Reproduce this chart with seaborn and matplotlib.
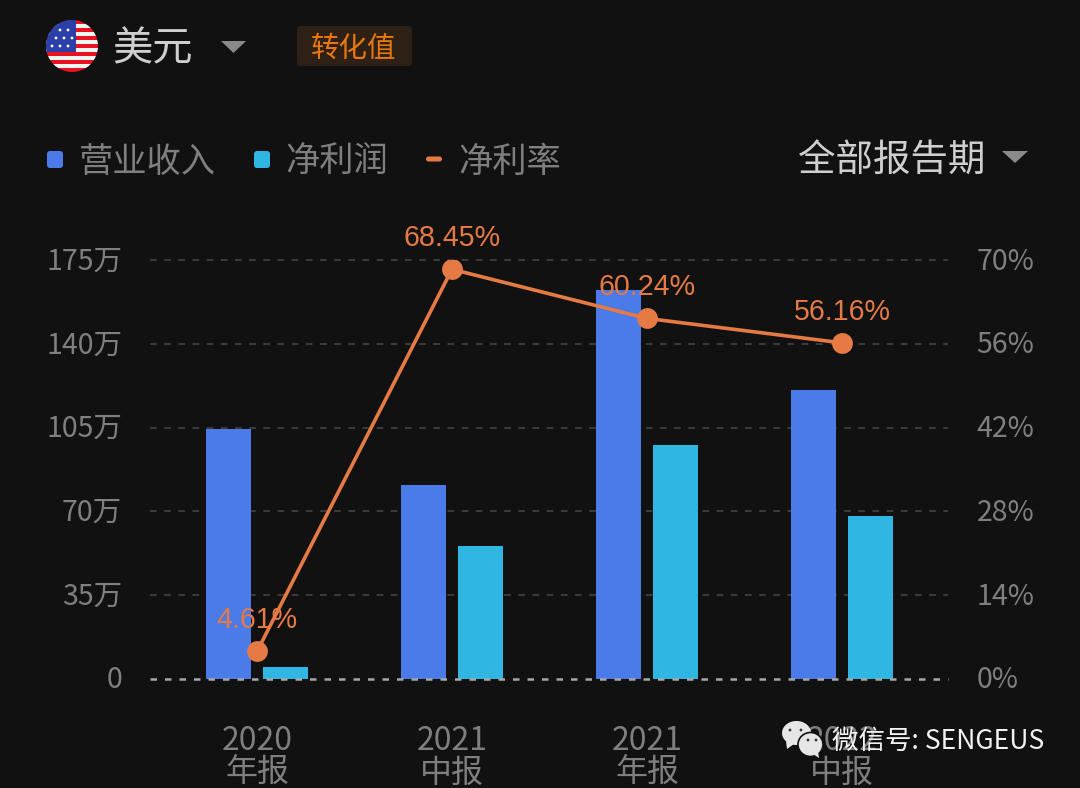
import matplotlib
matplotlib.use("Agg")
import matplotlib.pyplot as plt
from matplotlib.patches import Circle, Ellipse, FancyBboxPatch, Polygon, Rectangle
from matplotlib.transforms import ScaledTranslation
import pandas as pd
import seaborn as sns

# Values
periods = ["2020\n年报", "2021\n中报", "2021\n年报", "2022\n中报"]
revenue = [104.3, 81, 162.5, 120.7]
net_profit = [5.2, 55.5, 97.7, 68]
margin = [4.61, 68.45, 60.24, 56.16]
left_ticks = [0, 35, 70, 105, 140, 175]
left_labels = ["0", "35万", "70万", "105万", "140万", "175万"]
right_ticks = [0, 14, 28, 42, 56, 70]
right_labels = ["0%", "14%", "28%", "42%", "56%", "70%"]

BG = "#111111"
BLUE = "#4A7BE8"
CYAN = "#2FB6E3"
ORANGE = "#E67A45"
GREY = "#7F7F7F"

sns.set_theme(style="dark")
plt.rcParams["font.family"] = ["Noto Sans CJK SC", "DejaVu Sans"]

fig = plt.figure(figsize=(10.8, 7.88), dpi=100, facecolor=BG)
ax = fig.add_axes([150 / 1080, 109 / 788, 798 / 1080, 419 / 788], facecolor=BG)

# Bars
df = pd.DataFrame({"period": periods, "营业收入": revenue, "净利润": net_profit})
df = df.melt(id_vars="period", var_name="item", value_name="value")
sns.barplot(data=df, x="period", y="value", hue="item", palette=[BLUE, CYAN],
            width=0.58, gap=0.203, saturation=1, legend=False, zorder=3,
            linewidth=0, ax=ax)
ax.set_xlim(-0.549, 3.544)
ax.set_ylim(0, 175)
ax.set_xlabel("")
ax.set_ylabel("")
ax.set_yticks(left_ticks, left_labels)
ax.tick_params(axis="x", length=0, pad=33, labelsize=23, labelcolor=GREY)
ax.tick_params(axis="y", length=0, pad=20, labelsize=20.5, labelcolor=GREY)
for label in ax.get_xticklabels():
    label.set_linespacing(1.0)
for s in ax.spines.values():
    s.set_visible(False)

# Grid lines, zero line is brighter
for t in left_ticks[1:]:
    ax.axhline(t, color="#3A3A3A", lw=1.5, dashes=(3.2, 3.6), zorder=1, clip_on=False)
ax.axhline(0, color="#A8A8A8", lw=1.8, dashes=(2.6, 3.2), zorder=4, clip_on=False)

# Margin line on the second axis
ax2 = ax.twinx()
sns.lineplot(x=list(range(len(periods))), y=margin, color=ORANGE, lw=2.6, marker="o",
             markersize=15, markeredgewidth=0, ax=ax2, zorder=5)
ax2.set_ylim(0, 70)
ax2.set_yticks(right_ticks, right_labels)
ax2.set_ylabel("")
ax2.grid(False)
ax2.tick_params(axis="y", length=0, pad=20.5, labelsize=20.5, labelcolor=GREY)
for s in ax2.spines.values():
    s.set_visible(False)
for i, v in enumerate(margin):
    ax2.annotate(f"{v:.2f}%", (i, v), xytext=(0, 22.5), textcoords="offset points",
                 ha="center", va="center", color=ORANGE, fontsize=20.6,
                 family=["Liberation Sans"], zorder=6)

# Nudge y tick labels up a little, the CJK font sits low
nudge = ScaledTranslation(0, 2 / 100, fig.dpi_scale_trans)
for a in (ax, ax2):
    for label in a.get_yticklabels():
        label.set_transform(label.get_transform() + nudge)

# Overlay in pixel coordinates for the header and watermark
top = fig.add_axes([0, 0, 1, 1], facecolor="none")
top.set_xlim(0, 1080)
top.set_ylim(788, 0)
top.axis("off")

# Flag
clip = Circle((72, 46), 26, transform=top.transData)
for i in range(13):
    c = "#E8111F" if i % 2 == 0 else "#F4F4F4"
    r = Rectangle((46, 20 + i * 4), 52, 4.1, color=c, lw=0)
    top.add_patch(r)
    r.set_clip_path(clip)
r = Rectangle((46, 20), 30, 32, color="#2A3FA8", lw=0)
top.add_patch(r)
r.set_clip_path(clip)
for sx, sy in [(60, 30), (68, 30), (56, 38), (64, 38), (72, 38), (52, 46), (60, 46), (68, 46)]:
    top.add_patch(Circle((sx, sy), 1.4, color="white", lw=0))

top.text(112, 49, "美元", color="#CFCFCF", fontsize=29, ha="left", va="center", weight="medium")
top.add_patch(Polygon([(221, 41), (246, 41), (233.5, 53)], color="#8A8A8A", lw=0))
top.add_patch(FancyBboxPatch((297, 26), 115, 40, boxstyle="round,pad=0,rounding_size=3",
                             fc="#2E2015", ec="none"))
top.text(354, 49, "转化值", color="#E8780F", fontsize=20.5, ha="center", va="center")

# Legend row
for x, c in [(47, BLUE), (254, CYAN)]:
    top.add_patch(FancyBboxPatch((x, 151), 16, 17, boxstyle="round,pad=0,rounding_size=3", fc=c, ec="none"))
top.add_patch(FancyBboxPatch((426, 156.5), 16, 5, boxstyle="round,pad=0,rounding_size=2.5", fc=ORANGE, ec="none"))
top.text(79, 162, "营业收入", color=GREY, fontsize=24.7, ha="left", va="center")
top.text(285, 162, "净利润", color=GREY, fontsize=24.7, ha="left", va="center")
top.text(458, 162, "净利率", color=GREY, fontsize=24.7, ha="left", va="center")
top.text(798, 161, "全部报告期", color="#CFCFCF", fontsize=27, ha="left", va="center")
top.add_patch(Polygon([(1002, 151), (1028, 151), (1015, 163)], color="#8A8A8A", lw=0))

# Watermark
top.add_patch(Ellipse((796.5, 733), 29, 24, color="#E6E6E6", lw=0))
top.add_patch(Polygon([(786, 741), (787, 749), (794, 744)], color="#E6E6E6", lw=0))
top.add_patch(Ellipse((810.5, 744.5), 25, 24, fc="#E6E6E6", ec=BG, lw=1.2))
top.add_patch(Polygon([(813, 754), (819, 758), (818, 751)], color="#E6E6E6", lw=0))
for x, y in [(790, 730), (801, 730), (808, 740), (816, 740)]:
    top.add_patch(Circle((x, y), 1.4, color="#333333", lw=0))
top.text(832, 741, "微信号: SENGEUS", color="#F2F2F2", fontsize=19.1, ha="left", va="center")

fig.savefig("out.png", dpi=100, facecolor=BG)
